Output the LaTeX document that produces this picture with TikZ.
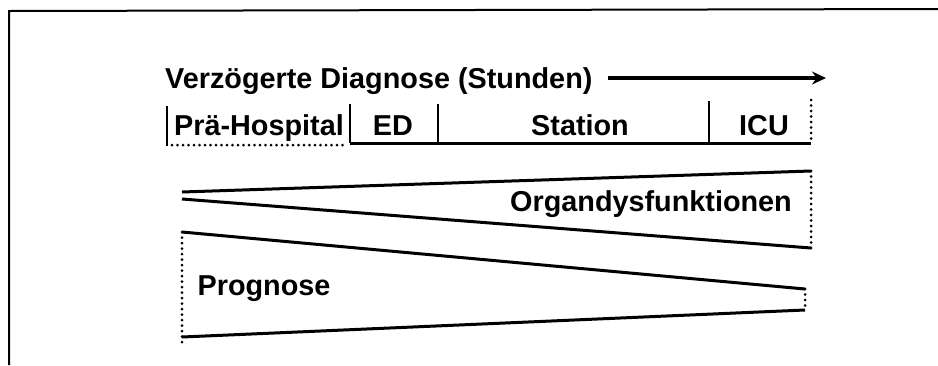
\documentclass[tikz,border=0pt]{standalone}
\usepackage{fontspec}
\setmainfont{Liberation Sans}
\usetikzlibrary{arrows.meta}
\begin{document}
\begin{tikzpicture}[x=1pt,y=-1pt,
  lbl/.style={font=\fontsize{28.8}{30}\selectfont\bfseries, inner sep=0pt, anchor=base},
  thick3/.style={line width=3pt},
  dotl/.style={line width=3pt, dash pattern=on 0pt off 5.5pt, line cap=round},
  tick/.style={line width=2.4pt}]
\useasboundingbox (0,0) rectangle (938,365);
% frame
\coordinate (f1) at (9,365);
\coordinate (f2) at (9,11);
\coordinate (f3) at (938,9);
\draw[line width=2pt] (f1) -- (f2) -- (f3);
% title
\node[lbl, anchor=base west] (title) at (165,88) {Verzögerte Diagnose (Stunden)};
\coordinate (a1) at (608,78);
\coordinate (a2) at (826,78);
\draw[line width=4pt, -{Stealth[length=14pt,width=13pt]}] (a1) -- (a2);
% column headers
\node[lbl] (pre) at (259,135) {Prä-Hospital};
\node[lbl] (ed) at (393,135) {ED};
\node[lbl] (station) at (580,135) {Station};
\node[lbl] (icu) at (764,135) {ICU};
\coordinate (t0a) at (167,106); \coordinate (t0b) at (167,146);
\coordinate (t1a) at (350,104); \coordinate (t1b) at (350,143);
\coordinate (t2a) at (438,104); \coordinate (t2b) at (438,143);
\coordinate (t3a) at (709,101); \coordinate (t3b) at (709,143);
\coordinate (t4a) at (811,100); \coordinate (t4b) at (811,143);
\draw[tick] (t0a) -- (t0b);
\draw[tick] (t1a) -- (t1b);
\draw[tick] (t2a) -- (t2b);
\draw[tick] (t3a) -- (t3b);
\draw[dotl] (t4a) -- (t4b);
\coordinate (u0) at (172,145);
\coordinate (u1) at (346,145);
\draw[dotl] (u0) -- (u1);
\draw[thick3] (t1b) -- (t4b);
% Organdysfunktionen wedge
\coordinate (o1) at (182,192);
\coordinate (o2) at (811,171);
\coordinate (o3) at (182,199);
\coordinate (o4) at (811,248);
\draw[thick3] (o1) -- (o2);
\draw[thick3] (o3) -- (o4);
\draw[dotl] (o2) -- (o4);
\node[lbl] (organ) at (651,211) {Organdysfunktionen};
% Prognose wedge
\coordinate (p1) at (182,232);
\coordinate (p2) at (805,289);
\coordinate (p3) at (182,337);
\coordinate (p4) at (805,310);
\coordinate (p5) at (182,342);
\draw[thick3] (p1) -- (p2);
\draw[thick3] (p3) -- (p4);
\draw[dotl] (p1) -- (p5);
\draw[dotl] (p2) -- (p4);
\node[lbl] (progn) at (264,295) {Prognose};
\end{tikzpicture}
\end{document}
